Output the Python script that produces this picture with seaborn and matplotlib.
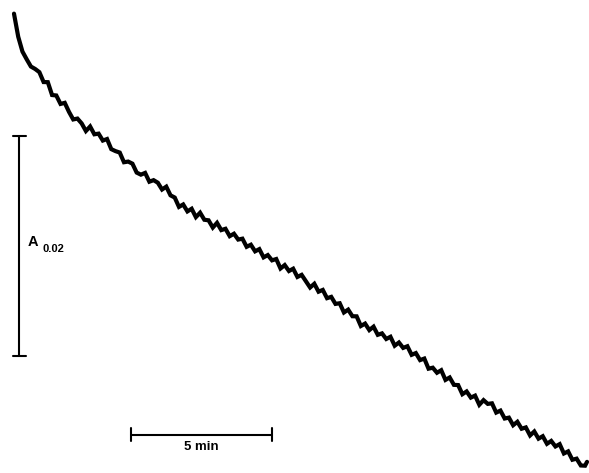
import numpy as np
import pandas as pd
import seaborn as sns
import matplotlib
matplotlib.use("Agg")
import matplotlib.pyplot as plt

sns.set_style("white")
plt.rcParams['font.family'] = ['Liberation Sans', 'DejaVu Sans']

t_min = [0.00, 0.15, 0.30, 0.45, 0.60, 0.75, 0.90, 1.05, 1.20, 1.35, 1.50, 1.65, 1.80, 1.95, 2.10, 2.25,
         2.40, 2.55, 2.70, 2.85, 3.00, 3.15, 3.30, 3.45, 3.60, 3.75, 3.90, 4.05, 4.20, 4.35, 4.50, 4.65,
         4.80, 4.95, 5.10, 5.25, 5.40, 5.55, 5.70, 5.85, 6.00, 6.15, 6.30, 6.45, 6.60, 6.75, 6.90, 7.05,
         7.20, 7.35, 7.50, 7.65, 7.80, 7.95, 8.10, 8.25, 8.40, 8.55, 8.70, 8.85, 9.00, 9.15, 9.30, 9.45,
         9.60, 9.75, 9.90, 10.05, 10.20, 10.35, 10.50, 10.65, 10.80, 10.95, 11.10, 11.25, 11.40, 11.55,
         11.70, 11.85, 12.00, 12.15, 12.30, 12.45, 12.60, 12.75, 12.90, 13.05, 13.20, 13.35, 13.50, 13.65,
         13.80, 13.95, 14.10, 14.25, 14.40, 14.55, 14.70, 14.85, 15.00, 15.15, 15.30, 15.45, 15.60, 15.75,
         15.90, 16.05, 16.20, 16.35, 16.50, 16.65, 16.80, 16.95, 17.10, 17.25, 17.40, 17.55, 17.70, 17.85,
         18.00, 18.15, 18.30, 18.45, 18.60, 18.75, 18.90, 19.05, 19.20, 19.35, 19.50, 19.65, 19.80, 19.95,
         20.10, 20.25, 20.32]
absorb_mA = [42.40, 40.30, 38.95, 38.25, 37.59, 37.37, 37.08, 36.18, 36.17, 35.00, 34.96, 34.19, 34.29,
             33.47, 32.78, 32.86, 32.42, 31.73, 32.14, 31.43, 31.49, 30.86, 31.00, 30.08, 29.90, 29.77,
             28.89, 28.95, 28.76, 27.95, 27.76, 27.92, 27.12, 27.26, 27.03, 26.41, 26.67, 25.88, 25.68,
             24.83, 25.05, 24.42, 24.66, 23.90, 24.30, 23.66, 23.61, 22.95, 23.38, 22.72, 22.84, 22.17,
             22.39, 21.86, 21.94, 21.20, 21.39, 20.79, 20.99, 20.24, 20.45, 19.97, 20.09, 19.23, 19.54,
             19.00, 19.21, 18.46, 18.65, 18.08, 17.50, 17.84, 17.12, 17.28, 16.53, 16.65, 16.01, 16.07,
             15.23, 15.49, 14.89, 14.88, 14.00, 14.22, 13.63, 13.94, 13.20, 13.33, 12.82, 13.02, 12.21,
             12.50, 12.01, 12.16, 11.38, 11.54, 10.90, 11.04, 10.12, 10.21, 9.75, 9.98, 9.10, 9.32, 8.65,
             8.63, 7.80, 8.05, 7.49, 7.67, 6.84, 7.26, 6.92, 6.97, 6.13, 6.31, 5.59, 5.67, 4.98, 5.29,
             4.66, 4.78, 4.05, 4.41, 3.76, 3.98, 3.29, 3.55, 3.05, 3.26, 2.41, 2.60, 1.84, 1.94, 1.32,
             1.30, 1.65]

# barras de escala
escala_A = 0.02
escala_t = 5

df = pd.DataFrame({"tempo": t_min, "absorbancia": np.array(absorb_mA) / 1000})

fig = plt.figure(figsize=(5.89, 4.73), dpi=100)
ax = fig.add_axes([0, 0, 1, 1])
sns.lineplot(data=df, x="tempo", y="absorbancia", color="black", linewidth=3.0,
             estimator=None, sort=False, ax=ax)
ax.lines[0].set_solid_joinstyle("miter")

# barra vertical (A 0.02)
x0, y0 = 0.18, 0.0113
ax.plot([x0, x0], [y0, y0 + escala_A], color="black", lw=1.5)
for yy in [y0, y0 + escala_A]:
    ax.plot([x0 - 0.22, x0 + 0.25], [yy, yy], color="black", lw=1.5)
ax.text(0.5, y0 + escala_A / 2 + 0.0003, "A", fontsize=10.5, fontweight="bold",
        va="center", ha="left", color="black")
ax.text(1.0, y0 + escala_A / 2 - 0.0003, "0.02", fontsize=8, fontweight="bold",
        va="center", ha="left", color="black")

# barra horizontal (5 min)
xb, yb = 4.15, 0.0041
ax.plot([xb, xb + escala_t], [yb, yb], color="black", lw=1.5)
for xx in [xb, xb + escala_t]:
    ax.plot([xx, xx], [yb - 0.0006, yb + 0.0006], color="black", lw=1.5)
ax.text(xb + escala_t / 2, yb - 0.0011, "5 min", fontsize=9.5, fontweight="bold",
        ha="center", va="center", color="black")

ax.set_xlim(-0.496, 20.39)
ax.set_ylim(0.000636, 0.04364)
ax.set_axis_off()
plt.savefig("out.png", dpi=100)
